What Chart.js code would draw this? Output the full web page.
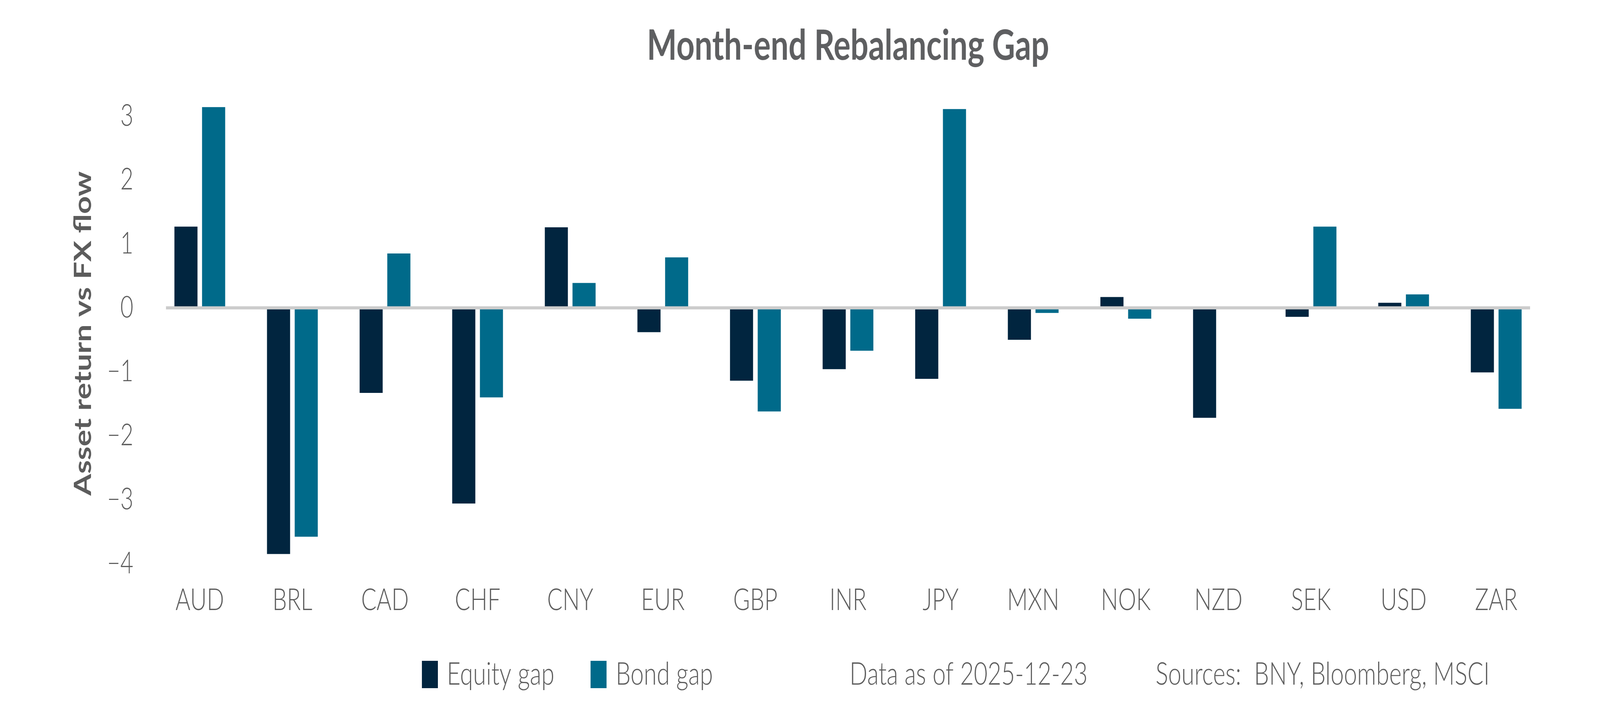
<!DOCTYPE html>
<html>
<head>
<meta charset="utf-8">
<script src="https://cdn.jsdelivr.net/npm/chart.js@4/dist/chart.umd.min.js"></script>
<style>
  html, body { margin: 0; padding: 0; background: #ffffff; overflow: hidden; }
  canvas { display: block; }
</style>
</head>
<body>
<canvas id="c" width="5400" height="1800"></canvas>
<script>
const chartTitle = 'Month-end Rebalancing Gap';
const yAxisTitle = 'Asset return vs FX flow';
const categories = ['AUD','BRL','CAD','CHF','CNY','EUR','GBP','INR','JPY','MXN','NOK','NZD','SEK','USD','ZAR'];
const equityGap = [1.27, -3.85, -1.33, -3.06, 1.26, -0.38, -1.14, -0.96, -1.11, -0.50, 0.17, -1.72, -0.14, 0.08, -1.01];
const bondGap   = [3.14, -3.58, 0.85, -1.40, 0.39, 0.79, -1.62, -0.67, 3.11, -0.08, -0.17, null, 1.27, 0.21, -1.58];
const seriesNames = ['Equity gap', 'Bond gap'];
const seriesColors = ['#01253F', '#006A8A'];
const yTickValues = [-4, -3, -2, -1, 0, 1, 2, 3];
const yMin = -4, yMax = 3.2;
const noteDate = 'Data as of 2025-12-23';
const noteSources = 'Sources:  BNY, Bloomberg, MSCI';

const GRAY = '#5C5C5C';
const TITLE_GRAY = '#5E5F61';
const FONT = 'Lato';

// The chart is drawn on a 5400 x 1800 bitmap and displayed to fill the window.
const canvas = document.getElementById('c');
const W = window.innerWidth || 5400;
const H = window.innerHeight || 1800;
canvas.style.width = W + 'px';
canvas.style.height = H + 'px';

const zeroLinePlugin = {
  id: 'zeroLine',
  afterDatasetsDraw(chart) {
    const {ctx, chartArea, scales} = chart;
    const y = scales.y.getPixelForValue(0);
    ctx.save();
    ctx.strokeStyle = '#CCCCCC';
    ctx.lineWidth = 8;
    ctx.beginPath();
    ctx.moveTo(chartArea.left + 42, y);
    ctx.lineTo(chartArea.right - 42, y);
    ctx.stroke();
    ctx.restore();
  }
};

const footerPlugin = {
  id: 'footer',
  afterDraw(chart) {
    const {ctx} = chart;
    const yc = 1727;
    ctx.save();
    ctx.font = '300 80px ' + FONT;
    ctx.textBaseline = 'middle';
    ctx.textAlign = 'left';
    const items = [
      {box: 1424, text: 1508, ds: 0},
      {box: 1993, text: 2078, ds: 1}
    ];
    items.forEach(it => {
      const dset = chart.data.datasets[it.ds];
      ctx.fillStyle = dset.backgroundColor;
      ctx.fillRect(it.box, yc - 35, 54, 70);
      ctx.fillStyle = GRAY;
      ctx.fillText(dset.label, it.text, yc);
    });
    ctx.fillStyle = GRAY;
    ctx.fillText(noteDate, 2867, yc);
    ctx.fillText(noteSources, 3900, yc);
    ctx.restore();
  }
};

new Chart(canvas, {
  type: 'bar',
  data: {
    labels: categories,
    datasets: [
      { label: seriesNames[0], data: equityGap, backgroundColor: seriesColors[0], categoryPercentage: 0.598, barPercentage: 0.834 },
      { label: seriesNames[1], data: bondGap, backgroundColor: seriesColors[1], categoryPercentage: 0.598, barPercentage: 0.834 }
    ]
  },
  options: {
    responsive: false,
    devicePixelRatio: 1,
    animation: false,
    layout: { padding: { left: 0, right: 194, top: 0, bottom: 0 } },
    plugins: {
      legend: { display: false },
      tooltip: { enabled: false },
      title: {
        display: true,
        text: chartTitle,
        fullSize: false,
        color: TITLE_GRAY,
        font: { family: FONT, weight: '700', size: 107, lineHeight: 1.2 },
        padding: { top: 54, bottom: 82 }
      }
    },
    scales: {
      x: {
        grid: { display: false, drawTicks: false },
        border: { display: false },
        ticks: { color: GRAY, font: { family: FONT, weight: '300', size: 77, lineHeight: 1.2 }, padding: 48, maxRotation: 0, autoSkip: false },
        afterFit(scale) { scale.height = 357; }
      },
      y: {
        min: yMin,
        max: yMax,
        grid: { display: false, drawTicks: false },
        border: { display: false },
        afterBuildTicks(scale) { scale.ticks = yTickValues.map(v => ({ value: v })); },
        ticks: {
          color: GRAY,
          font: { family: FONT, weight: '300', size: 76, lineHeight: 1.2 },
          padding: 68,
          callback: v => (v < 0 ? '\u2212' + Math.abs(v) : String(v))
        },
        title: {
          display: true,
          text: yAxisTitle,
          color: GRAY,
          font: { family: FONT, weight: '700', size: 80, lineHeight: 1.2 },
          padding: { top: 233, bottom: 0 }
        },
        afterFit(scale) { scale.width = 518; }
      }
    }
  },
  plugins: [zeroLinePlugin, footerPlugin]
});
canvas.style.width = W + 'px';
canvas.style.height = H + 'px';
</script>
</body>
</html>
